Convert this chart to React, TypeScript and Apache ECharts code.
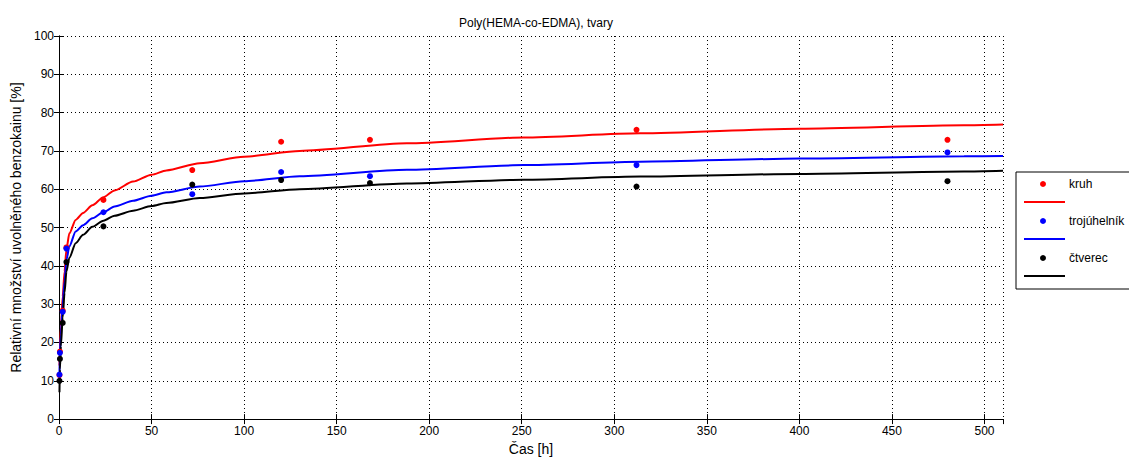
import React, { useEffect, useRef } from "react";
import * as echarts from "echarts";

// measured sample times [h]
const sampleTimes = [0.25, 0.5, 2, 4, 24, 72, 120, 168, 312, 480];
const kruhPoints = [11.5, 17.6, 28.3, 44.8, 57.2, 65.0, 72.4, 72.9, 75.5, 72.9];
const trojPoints = [11.6, 17.3, 28.0, 44.5, 54.0, 58.7, 64.5, 63.4, 66.3, 69.6];
const ctverecPoints = [10.0, 15.7, 25.1, 41.0, 50.3, 61.2, 62.4, 61.6, 60.7, 62.1];

// fitted curves
const curveTimes = [0.25, 0.5, 1, 2, 3, 4, 5.6, 9, 13, 18, 24, 30, 40, 50, 58, 76, 100, 130, 188, 251, 314, 400, 489, 510];
const kruhCurve = [14, 18.5, 24, 32, 38.5, 44.3, 48.5, 52, 53.8, 55.8, 57.9, 59.7, 62.0, 63.8, 64.9, 66.8, 68.5, 70.0, 72.0, 73.5, 74.6, 75.8, 76.7, 76.9];
const trojCurve = [12, 17, 22, 30, 36, 41.5, 45.1, 49.0, 50.6, 52.4, 54.0, 55.5, 57.0, 58.3, 59.2, 60.7, 62.1, 63.4, 65.1, 66.3, 67.2, 68.0, 68.6, 68.7];
const ctverecCurve = [7, 13, 19, 26.5, 33, 38.5, 42.1, 45.9, 48.1, 50.2, 51.8, 53.1, 54.4, 55.6, 56.4, 57.7, 58.9, 60.0, 61.5, 62.5, 63.3, 64.0, 64.6, 64.8];

const legendNames = ["kruh", "trojúhelník", "čtverec"];
const colors = ["#ff0000", "#0000ff", "#000000"];

const FONT = "Liberation Sans";

export default function App() {
  const ref = useRef<HTMLDivElement>(null);
  useEffect(() => {
    if (!ref.current) return;
    const chart = echarts.init(ref.current, null, { renderer: "svg" });
    const pairs = (xs: number[], ys: number[]) => xs.map((x, i) => [x, ys[i]]);
    const pointSets = [kruhPoints, trojPoints, ctverecPoints];
    const curveSets = [kruhCurve, trojCurve, ctverecCurve];

    const series: any[] = [];
    for (let i = 0; i < 3; i++) {
      series.push({
        name: legendNames[i] + " fit",
        type: "line",
        data: pairs(curveTimes, curveSets[i]),
        showSymbol: false,
        smooth: 0.25,
        smoothMonotone: "x",
        lineStyle: { color: colors[i], width: 2 },
        z: 3,
      });
    }
    for (let i = 0; i < 3; i++) {
      series.push({
        name: legendNames[i],
        type: "scatter",
        data: pairs(sampleTimes, pointSets[i]),
        symbol: "circle",
        symbolSize: 6,
        itemStyle: { color: colors[i], opacity: 1 },
        z: 4,
      });
    }

    const axisCommon = {
      axisLine: { show: true, lineStyle: { color: "#000", width: 1 } },
      axisTick: { show: true, inside: true, length: 5, lineStyle: { color: "#000" } },
    };

    const lx = 1016, ly = 172;
    const legendGraphic: any[] = [
      {
        type: "rect",
        shape: { x: lx, y: ly, width: 130, height: 117 },
        style: { fill: "#fff", stroke: "#000", lineWidth: 1 },
        z: 10,
      },
    ];
    for (let i = 0; i < 3; i++) {
      const y0 = ly + 12 + i * 37;
      legendGraphic.push({
        type: "circle",
        shape: { cx: 1043, cy: y0, r: 3 },
        style: { fill: colors[i] },
        z: 11,
      });
      legendGraphic.push({
        type: "text",
        x: 1069,
        y: y0,
        style: { text: legendNames[i], font: `12px ${FONT}`, fill: "#000", textVerticalAlign: "middle" },
        z: 11,
      });
      legendGraphic.push({
        type: "line",
        shape: { x1: 1024, y1: y0 + 18, x2: 1065, y2: y0 + 18 },
        style: { stroke: colors[i], lineWidth: 2 },
        z: 11,
      });
    }

    chart.setOption({
      animation: false,
      backgroundColor: "#fff",
      textStyle: { fontFamily: FONT },
      title: {
        text: "Poly(HEMA-co-EDMA), tvary",
        left: 531,
        top: 12,
        textAlign: "center",
        textStyle: { fontSize: 12, fontWeight: "normal", color: "#000", fontFamily: FONT },
      },
      grid: { left: 59, right: 126, top: 36, bottom: 37, containLabel: false },
      xAxis: [
        {
          type: "value",
          min: 0,
          max: 510,
          interval: 50,
          name: "Čas [h]",
          nameLocation: "middle",
          nameGap: 21,
          nameTextStyle: { fontSize: 14, color: "#000", fontFamily: FONT },
          ...axisCommon,
          axisLabel: { color: "#000", fontSize: 12, margin: 6, fontFamily: FONT, showMaxLabel: false },
          splitLine: { show: true, lineStyle: { color: "#000", type: [1, 3], width: 1 } },
        },
        {
          type: "value",
          position: "top",
          min: 0,
          max: 510,
          interval: 50,
          ...axisCommon,
          axisLabel: { show: false },
          splitLine: { show: false },
        },
      ],
      yAxis: [
        {
          type: "value",
          min: 0,
          max: 100,
          interval: 10,
          name: "Relativní množství uvolněného benzokainu [%]",
          nameLocation: "middle",
          nameGap: 33,
          nameTextStyle: { fontSize: 14, color: "#000", fontFamily: FONT },
          ...axisCommon,
          axisLabel: { color: "#000", fontSize: 12, margin: 5, fontFamily: FONT },
          splitLine: { show: true, lineStyle: { color: "#000", type: [1, 3], width: 1 } },
        },
        {
          type: "value",
          position: "right",
          min: 0,
          max: 100,
          interval: 10,
          ...axisCommon,
          axisLabel: { show: false },
          splitLine: { show: false },
        },
      ],
      graphic: legendGraphic,
      series,
    });
    return () => chart.dispose();
  }, []);
  return (
    <div
      ref={ref}
      style={{ position: "fixed", left: 0, top: 0, width: 1129, height: 461, background: "#fff" }}
    />
  );
}
